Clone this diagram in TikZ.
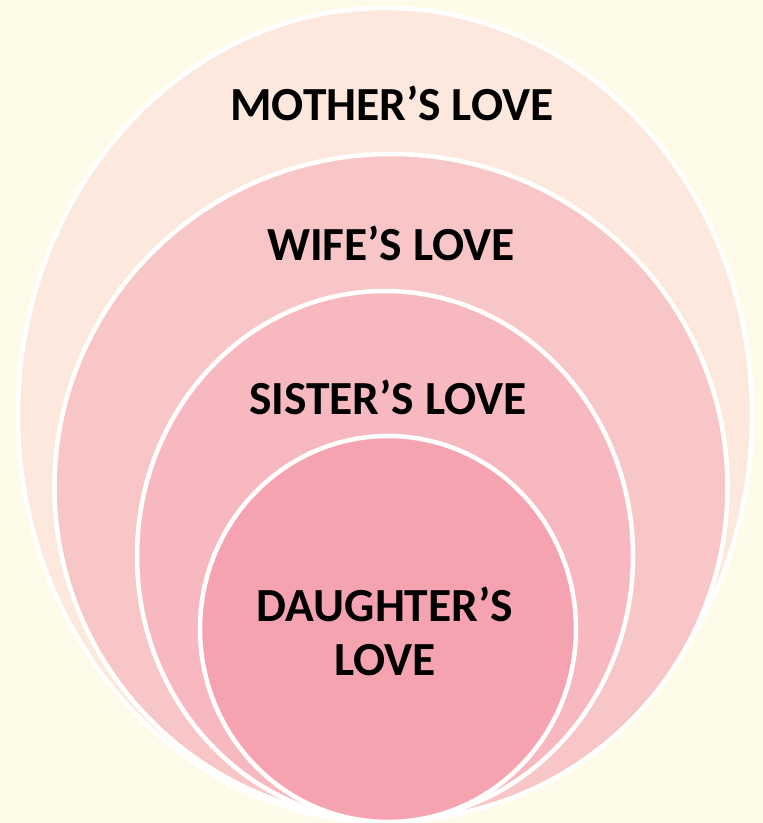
\documentclass[tikz,border=0pt]{standalone}
\usepackage{fontspec}
\setmainfont{Carlito}
\usetikzlibrary{shapes.geometric,positioning}
\definecolor{bgyellow}{HTML}{FEFCE8}
\definecolor{motherfill}{HTML}{FCE8DD}
\definecolor{wifefill}{HTML}{F8C6C6}
\definecolor{sisterfill}{HTML}{F7B8BF}
\definecolor{daughterfill}{HTML}{F6A3B1}
\tikzset{
    ring/.style = {draw=white, line width=4.5pt, ellipse, inner sep=0pt},
    caption/.style = {font=\fontsize{47.5}{56}\selectfont\bfseries, text=black, align=center},
}

\begin{document}
\begin{tikzpicture}[x=1pt, y=-1pt]

% Background
\fill[bgyellow] (0,0) rectangle (763,823);
\useasboundingbox (0,0) rectangle (763,823);

% Nested rings (all resting on the bottom edge)
\node[ring, fill=motherfill, minimum width=734pt, minimum height=814pt] (mother) at (385,415) {};
\node[ring, fill=wifefill, minimum width=673pt, minimum height=666pt] (wife) at (391,487) {};
\node[ring, fill=sisterfill, minimum width=496pt, minimum height=530pt] (sister) at (385,556) {};
\node[ring, fill=daughterfill, minimum width=376pt, minimum height=386pt] (daughter) at (388,629) {};

% Labels
\node[caption] (mothertext) at (392,103) {MOTHER’S LOVE};
\node[caption] (wifetext) at (391,243) {WIFE’S LOVE};
\node[caption] (sistertext) at (388,397) {SISTER’S LOVE};
\node[caption] (daughtertext) at (385,631) {DAUGHTER’S\\[-2pt]LOVE};

\end{tikzpicture}
\end{document}
